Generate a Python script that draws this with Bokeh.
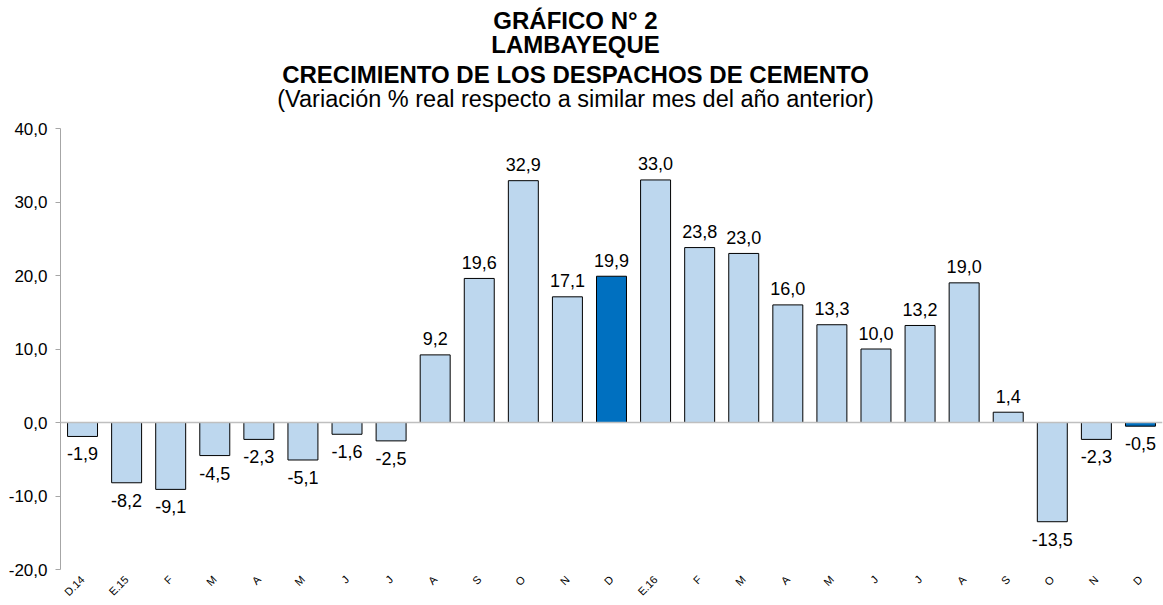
from math import pi
from bokeh.plotting import figure
from bokeh.layouts import column
from bokeh.models import (ColumnDataSource, Range1d, FixedTicker,
                          CustomJSTickFormatter, Span)
from bokeh.core.properties import value
from bokeh.embed import file_html
from bokeh.resources import INLINE

# ---- data ----
month_labels = ["D.14", "E.15", "F", "M", "A", "M", "J", "J", "A", "S", "O", "N", "D",
                "E.16", "F", "M", "A", "M", "J", "J", "A", "S", "O", "N", "D"]
growth = [-1.9, -8.2, -9.1, -4.5, -2.3, -5.1, -1.6, -2.5, 9.2, 19.6, 32.9, 17.1, 19.9,
          33.0, 23.8, 23.0, 16.0, 13.3, 10.0, 13.2, 19.0, 1.4, -13.5, -2.3, -0.5]
highlight = [False] * 12 + [True] + [False] * 11 + [True]
y_ticks = [-20, -10, 0, 10, 20, 30, 40]

title_lines = ["GRÁFICO N° 2", "LAMBAYEQUE", "CRECIMIENTO DE LOS DESPACHOS DE CEMENTO"]
subtitle = "(Variación % real respecto a similar mes del año anterior)"

FONT = "Liberation Sans"
LIGHT = "#BDD7EE"
DARK = "#0070C0"

W, H = 1163, 605
HEAD_H = 118
LEFT, RIGHT = 60, 1

idx = list(range(len(month_labels)))
colors = [DARK if h else LIGHT for h in highlight]
texts = [f"{v:.1f}".replace(".", ",") for v in growth]

pos_src = ColumnDataSource(dict(x=[i for i, v in zip(idx, growth) if v >= 0],
                                y=[v for v in growth if v >= 0],
                                t=[t for t, v in zip(texts, growth) if v >= 0]))
neg_src = ColumnDataSource(dict(x=[i for i, v in zip(idx, growth) if v < 0],
                                y=[v for v in growth if v < 0],
                                t=[t for t, v in zip(texts, growth) if v < 0]))
bar_src = ColumnDataSource(dict(x=idx, top=growth, color=colors))

# ---- header with the titles (x in page pixels; its frame is aligned with the chart's) ----
head = figure(width=W, height=HEAD_H, output_backend="svg", toolbar_location=None,
              x_range=Range1d(LEFT, W - RIGHT), y_range=Range1d(HEAD_H, 0),
              x_axis_type=None, y_axis_type=None, min_border=0,
              min_border_left=LEFT, min_border_right=RIGHT)
head.outline_line_color = None
head.xgrid.visible = False
head.ygrid.visible = False
head.title.visible = False
head_src = ColumnDataSource(dict(x=[575, 575, 575], y=[20, 43.5, 73.5], t=title_lines))
head.text(x="x", y="y", text="t", source=head_src, text_align="center",
          text_baseline="middle", text_font=value(FONT), text_font_style="bold",
          text_font_size="24px", text_color="black")
sub_src = ColumnDataSource(dict(x=[575], y=[98.5], t=[subtitle]))
head.text(x="x", y="y", text="t", source=sub_src, text_align="center",
          text_baseline="middle", text_font=value(FONT),
          text_font_size="23.5px", text_color="black")

# ---- main chart ----
p = figure(width=W, height=H - HEAD_H, output_backend="svg", toolbar_location=None,
           x_range=Range1d(-0.5, len(month_labels) - 0.5),
           y_range=Range1d(-20, 40),
           min_border_left=LEFT, min_border_right=RIGHT, min_border_top=10,
           min_border_bottom=33)
p.title.visible = False
p.outline_line_color = None
p.xgrid.visible = False
p.ygrid.visible = False

p.add_layout(Span(location=0, dimension="width", line_color="#BFBFBF", line_width=1.5))

p.vbar(x="x", top="top", bottom=0, width=0.68, source=bar_src,
       fill_color="color", line_color="black", line_width=1)

p.text(x="x", y="y", text="t", source=pos_src, text_align="center",
       text_baseline="alphabetic", y_offset=-16, text_font=value(FONT),
       text_font_size="18px", text_color="black")
p.text(x="x", y="y", text="t", source=neg_src, text_align="center",
       text_baseline="top", y_offset=11, text_font=value(FONT),
       text_font_size="18px", text_color="black")

# y axis
p.yaxis.ticker = FixedTicker(ticks=y_ticks)
p.yaxis.formatter = CustomJSTickFormatter(code="return tick.toFixed(1).replace('.', ',');")
p.yaxis.major_label_text_font = FONT
p.yaxis.major_label_text_font_size = "17px"
p.yaxis.major_label_text_color = "black"
p.yaxis.axis_line_color = "#A6A6A6"
p.yaxis.major_tick_line_color = "#A6A6A6"
p.yaxis.major_tick_out = 5
p.yaxis.major_tick_in = 0
p.yaxis.minor_tick_line_color = None
p.yaxis.major_label_standoff = 8

# x axis (month labels)
p.xaxis.ticker = FixedTicker(ticks=idx)
p.xaxis.major_label_overrides = {i: lab for i, lab in zip(idx, month_labels)}
p.xaxis.major_label_orientation = pi / 4
p.xaxis.major_label_text_font = FONT
p.xaxis.major_label_text_font_size = "11px"
p.xaxis.major_label_text_color = "black"
p.xaxis.axis_line_color = None
p.xaxis.major_tick_line_color = None
p.xaxis.major_tick_out = 0
p.xaxis.major_tick_in = 0
p.xaxis.minor_tick_line_color = None
p.xaxis.major_label_standoff = 8

layout = column(head, p, spacing=0)
open("out.html", "w").write(file_html(layout, INLINE))
